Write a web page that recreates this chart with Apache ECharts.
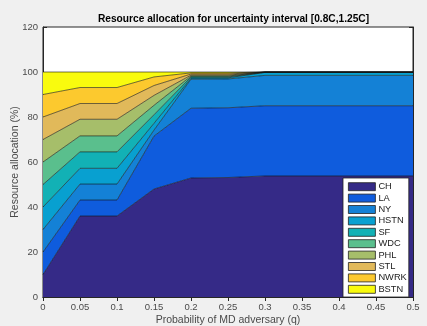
<!DOCTYPE html>
<html>
<head>
<meta charset="utf-8">
<script src="https://cdn.jsdelivr.net/npm/echarts@6/dist/echarts.min.js"></script>
<style>
html,body{margin:0;padding:0;background:#f0f0f0;}
#c{width:427px;height:326px;}
</style>
</head>
<body>
<div id="c"></div>
<script>
// Probability of MD adversary (q)
const qValues = [0, 0.05, 0.1, 0.15, 0.2, 0.25, 0.3, 0.35, 0.4, 0.45, 0.5];
const cities = ['CH','LA','NY','HSTN','SF','WDC','PHL','STL','NWRK','BSTN'];
// Resource allocation (%) per city (stacked layers)
const CH   = [10, 36.0, 36.0, 48.0, 52.9, 53.1, 53.8, 53.8, 53.8, 53.8, 53.8];
const LA   = [10, 7.1, 7.1, 23.5, 31.0, 31.0, 31.2, 31.2, 31.2, 31.2, 31.2];
const NY   = [10, 7.1, 7.1, 2.7, 12.9, 12.8, 13.5, 13.5, 13.5, 13.5, 13.5];
const HSTN = [10, 7.0, 7.0, 3.0, 0.5, 0.5, 1.3, 1.3, 1.3, 1.3, 1.3];
const SF   = [10, 7.3, 7.3, 3.8, 0.5, 0.4, 0.1, 0.1, 0.1, 0.1, 0.1];
const WDC  = [10, 7.1, 7.1, 4.2, 0.4, 0.4, 0.1, 0.1, 0.1, 0.1, 0.1];
const PHL  = [10, 7.4, 7.4, 4.4, 0.4, 0.4, 0, 0, 0, 0, 0];
const STL  = [10, 7.0, 7.0, 4.4, 0.5, 0.5, 0, 0, 0, 0, 0];
const NWRK = [10, 7.1, 7.1, 3.8, 0.5, 0.5, 0, 0, 0, 0, 0];
const BSTN = [10, 6.9, 6.9, 2.2, 0.4, 0.4, 0, 0, 0, 0, 0];
const yTicks = [0, 20, 40, 60, 80, 100, 120];

const layers = [CH, LA, NY, HSTN, SF, WDC, PHL, STL, NWRK, BSTN];
const colors = ['#352A87','#0F5CDD','#1481D6','#08A0D0','#12B1B5','#5ABF8D','#A6BE6A','#E1B95A','#FCC92E','#F9FB0E'];

const chart = echarts.init(document.getElementById('c'), null, {renderer:'canvas'});
const axisCol = '#262626';
const lblCol = '#4a4a4a';
const xCats = qValues.map(v => String(v));

const series = layers.map((vals, i) => ({
  name: cities[i],
  type: 'line',
  stack: 'total',
  data: vals,
  showSymbol: false,
  symbol: 'none',
  color: colors[i],
  lineStyle: {color: '#111', width: 0.6},
  areaStyle: {color: colors[i], opacity: 1},
  itemStyle: {color: colors[i]},
  z: 2
}));

const yMin = yTicks[0], yMax = yTicks[yTicks.length - 1], yStep = yTicks[1] - yTicks[0];

chart.setOption({
  animation: false,
  backgroundColor: '#f0f0f0',
  textStyle: {fontFamily: 'Liberation Sans, Arial, sans-serif'},
  title: {
    text: 'Resource allocation for uncertainty interval [0.8C,1.25C]',
    left: 228.5, top: 9, textAlign: 'center',
    textStyle: {fontSize: 10.2, fontWeight: 'bold', color: '#000', fontFamily: 'Liberation Sans, Arial, sans-serif'}
  },
  grid: {left: 43, top: 27, width: 370, height: 270, show: true, backgroundColor: '#fff', borderColor: axisCol, borderWidth: 1, containLabel: false, outerBoundsMode: 'none'},
  legend: {
    data: cities,
    orient: 'vertical',
    left: 343, top: 178,
    padding: [3, 2, 2, 5],
    itemGap: 0,
    itemWidth: 27, itemHeight: 8,
    icon: 'rect',
    backgroundColor: '#fff',
    borderColor: '#222', borderWidth: 0.8,
    itemStyle: {borderColor: '#222', borderWidth: 0.8},
    textStyle: {fontSize: 9.3, color: '#222', lineHeight: 11.4, padding: [0,0,0,-2]}
  },
  xAxis: [{
    type: 'category', data: xCats, boundaryGap: false,
    name: 'Probability of MD adversary (q)', nameLocation: 'middle', nameGap: 18,
    nameMoveOverlap: false,
    nameTextStyle: {fontSize: 10.5, color: lblCol},
    axisLine: {show: true, lineStyle: {color: axisCol}},
    axisTick: {show: true, inside: true, length: 4, alignWithLabel: true, lineStyle: {color: axisCol}},
    axisLabel: {fontSize: 9.5, color: lblCol, margin: 5, interval: 0},
    splitLine: {show: false}
  }, {
    type: 'category', data: xCats, boundaryGap: false, position: 'top',
    axisLine: {show: true, lineStyle: {color: axisCol}},
    axisTick: {show: true, inside: true, length: 4, lineStyle: {color: axisCol}},
    axisLabel: {show: false}, splitLine: {show: false}
  }],
  yAxis: [{
    type: 'value', min: yMin, max: yMax, interval: yStep,
    name: 'Resource allocation (%)', nameLocation: 'middle', nameGap: 22,
    nameMoveOverlap: false,
    nameTextStyle: {fontSize: 10.5, color: lblCol},
    axisLine: {show: true, lineStyle: {color: axisCol}},
    axisTick: {show: true, inside: true, length: 4, lineStyle: {color: axisCol}},
    axisLabel: {fontSize: 9.5, color: lblCol, margin: 5},
    splitLine: {show: false}
  }, {
    type: 'value', min: yMin, max: yMax, interval: yStep, position: 'right',
    axisLine: {show: true, lineStyle: {color: axisCol}},
    axisTick: {show: true, inside: true, length: 4, lineStyle: {color: axisCol}},
    axisLabel: {show: false}, splitLine: {show: false}
  }],
  series: series
});
</script>
</body>
</html>
